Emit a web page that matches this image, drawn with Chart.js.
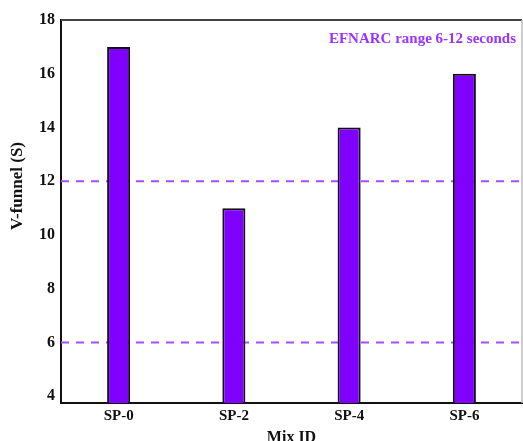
<!DOCTYPE html>
<html>
<head>
<meta charset="utf-8">
<script src="https://cdn.jsdelivr.net/npm/chart.js@4"></script>
<style>
html, body { margin: 0; padding: 0; background: #fff; overflow: hidden; }
</style>
</head>
<body>
<canvas id="myChart" width="523" height="451"></canvas>
<script>
// data
const mixIds = ['SP-0', 'SP-2', 'SP-4', 'SP-6'];
const vFunnel = [17, 11, 14, 16];
const efnarcLimits = [6, 12];
const efnarcLabel = 'EFNARC range 6-12 seconds';
const yTicks = [4, 6, 8, 10, 12, 14, 16, 18];
const yTitle = 'V-funnel (S)';

const serif = '"Liberation Serif", "Times New Roman", serif';

// dashed EFNARC limits behind the bars, frame + texts on top
const efnarcLines = {
    id: 'efnarcLines',
    beforeDatasetsDraw(chart) {
        const { ctx, chartArea, scales } = chart;
        ctx.save();
        ctx.strokeStyle = '#a64dff';
        ctx.lineWidth = 2;
        ctx.setLineDash([8, 7]);
        efnarcLimits.forEach(v => {
            const y = scales.y.getPixelForValue(v);
            ctx.beginPath();
            ctx.moveTo(chartArea.left, y);
            ctx.lineTo(chartArea.right, y);
            ctx.stroke();
        });
        ctx.restore();
    },
    afterDraw(chart) {
        const { ctx, chartArea } = chart;
        ctx.save();
        ctx.strokeStyle = '#444';
        ctx.lineWidth = 2;
        ctx.beginPath();
        ctx.moveTo(chartArea.left, chartArea.top);
        ctx.lineTo(chartArea.right, chartArea.top);
        ctx.stroke();
        ctx.strokeStyle = '#bbb';
        ctx.lineWidth = 1.5;
        ctx.beginPath();
        ctx.moveTo(chartArea.right, chartArea.top);
        ctx.lineTo(chartArea.right, chartArea.bottom);
        ctx.stroke();

        ctx.fillStyle = '#9933ff';
        ctx.font = 'bold 15px ' + serif;
        ctx.textAlign = 'right';
        ctx.textBaseline = 'alphabetic';
        ctx.fillText(efnarcLabel, chartArea.right - 6, chartArea.top + 23);

        // y title sits a bit above the middle in the original
        ctx.fillStyle = '#111';
        ctx.font = 'bold 17px ' + serif;
        ctx.textAlign = 'center';
        ctx.textBaseline = 'middle';
        ctx.translate(18, 186);
        ctx.rotate(-Math.PI / 2);
        ctx.fillText(yTitle, 0, 0);
        ctx.restore();
    }
};

const data = {
    labels: mixIds,
    datasets: [{
        label: 'V-funnel',
        data: vFunnel,
        backgroundColor: '#7f00ff',
        borderColor: '#111',
        borderWidth: 2,
        borderSkipped: false,
        barPercentage: 0.2,
        categoryPercentage: 1
    }]
};

const config = {
    type: 'bar',
    data: data,
    options: {
        responsive: false,
        animation: false,
        layout: {
            padding: { top: 20, right: 1, left: 0, bottom: 0 }
        },
        plugins: {
            legend: { display: false },
            tooltip: { enabled: false }
        },
        scales: {
            x: {
                grid: { display: false, drawTicks: false },
                border: { display: true, color: '#111', width: 2 },
                ticks: {
                    color: '#111',
                    padding: 4,
                    font: { family: serif, size: 15, weight: 'bold' }
                },
                title: {
                    display: true,
                    text: 'Mix ID',
                    color: '#111',
                    padding: { top: 4, bottom: 4 },
                    font: { family: serif, size: 16, weight: 'bold' }
                },
                afterFit(scale) { scale.height = 48; }
            },
            y: {
                min: 3.75,
                max: 18,
                grid: { display: false, drawTicks: false },
                border: { display: true, color: '#111', width: 2 },
                afterBuildTicks(scale) {
                    scale.ticks = yTicks.map(v => ({ value: v }));
                },
                ticks: {
                    color: '#111',
                    padding: 6,
                    font: { family: serif, size: 16, weight: 'bold' }
                },
                afterFit(scale) { scale.width = 61; }
            }
        }
    },
    plugins: [efnarcLines]
};

const ctx = document.getElementById('myChart').getContext('2d');
new Chart(ctx, config);
</script>
</body>
</html>
